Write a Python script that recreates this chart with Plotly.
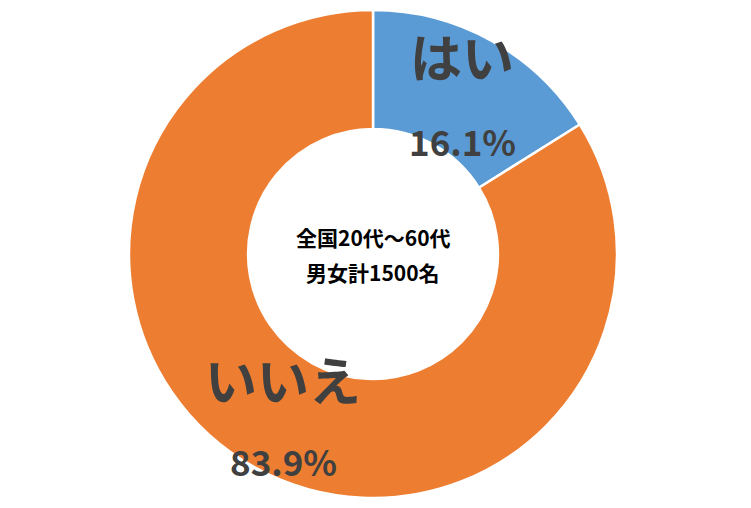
import plotly.graph_objects as go

labels = ["はい", "いいえ"]
values = [16.1, 83.9]
colors = ["#5B9BD5", "#ED7D31"]
center_lines = ["全国20代～60代", "男女計1500名"]

W, H = 751, 508
off = 8  # page body margin
cx, cy, r = 373 - off, 254 - off, 244

fig = go.Figure(go.Pie(
    labels=labels,
    values=values,
    hole=0.512,
    sort=False,
    direction="clockwise",
    rotation=0,
    marker=dict(colors=colors, line=dict(color="white", width=2.5)),
    textinfo="none",
    hoverinfo="label+percent",
    showlegend=False,
    domain=dict(x=[(cx - r) / W, (cx + r) / W], y=[(H - cy - r) / H, (H - cy + r) / H]),
))

font_fam = "Noto Sans CJK JP"
txt_col = "#404040"
label_pos = [(462, 55, 462, 140), (283, 378, 283, 460)]


def px(x, y):
    return (x - off) / W, 1 - (y - off) / H


ann = []
for lab, v, (lx, ly, qx, qy) in zip(labels, values, label_pos):
    ax, ay = px(lx, ly)
    ann.append(dict(x=ax, y=ay, xref="paper", yref="paper", text=f"<b>{lab}</b>",
                    xanchor="center", yanchor="middle",
                    showarrow=False, font=dict(family=font_fam, size=52, color=txt_col)))
    bx, by = px(qx, qy)
    ann.append(dict(x=bx, y=by, xref="paper", yref="paper", text=f"<b>{v}%</b>",
                    xanchor="center", yanchor="middle",
                    showarrow=False, font=dict(family=font_fam, size=35, color=txt_col)))
for i, t in enumerate(center_lines):
    tx, ty = px(373, 237 + 35 * i)
    ann.append(dict(x=tx, y=ty, xref="paper", yref="paper", text=f"<b>{t}</b>",
                    xanchor="center", yanchor="middle",
                    showarrow=False, font=dict(family=font_fam, size=21, color="#000000")))

fig.update_layout(
    width=W, height=H,
    margin=dict(l=0, r=0, t=0, b=0),
    paper_bgcolor="white", plot_bgcolor="white",
    annotations=ann,
)
fig.write_html("out.html")
